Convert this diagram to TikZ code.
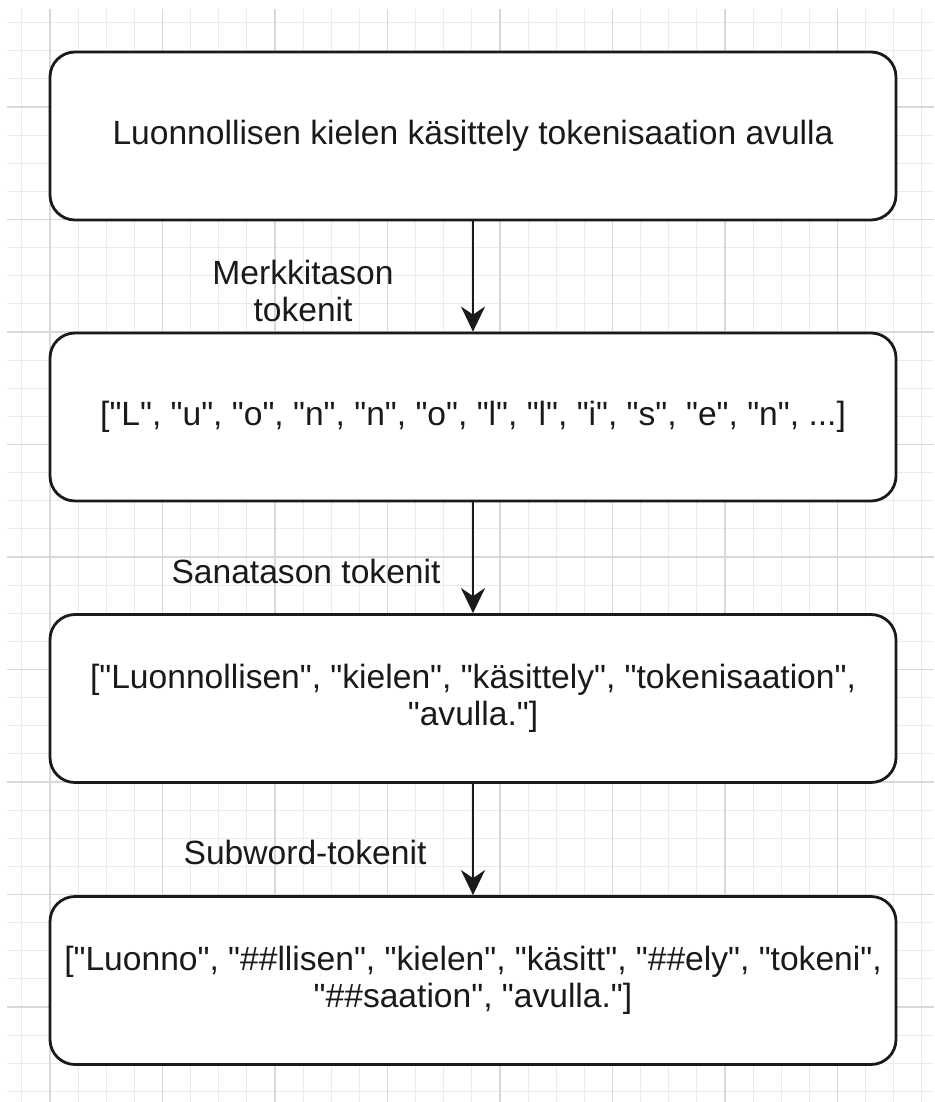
\documentclass[tikz,border=0pt]{standalone}
\usepackage{fontspec}
\setmainfont{Liberation Sans}[Ligatures=TeXOff]
\usetikzlibrary{arrows.meta}
\definecolor{gridminor}{HTML}{EBEBEB}
\definecolor{gridmajor}{HTML}{D8D8D8}
\definecolor{inkcol}{HTML}{1A1A1A}

\begin{document}
\begin{tikzpicture}[x=0.5pt,y=-0.5pt,
  stage/.style={draw=inkcol, line width=1.4pt, rounded corners=12.5pt, fill=white,
    minimum width=423pt, minimum height=84pt, align=center, inner sep=0pt,
    text=inkcol, font=\fontsize{16.8}{18.75}\selectfont},
  flow/.style={draw=inkcol, line width=1.1pt,
    -{Stealth[length=12.5pt,width=12pt,inset=4pt]}},
  lbl/.style={align=center, inner sep=0pt, text=inkcol,
    font=\fontsize{16.8}{18.5}\selectfont}]

\useasboundingbox (0,0) rectangle (934,1102);
\fill[white] (0,0) rectangle (934,1102);

% background grid: fine lines every 28.125 units, heavier every fourth
\begin{scope}
  \clip (7,10) rectangle (934,1102);
  \foreach \i in {-1,...,31}
    \draw[gridminor, line width=0.5pt] ({50+28.125*\i},0) -- ({50+28.125*\i},1102);
  \foreach \j in {-3,...,35}
    \draw[gridminor, line width=0.5pt] (0,{107+28.125*\j}) -- (934,{107+28.125*\j});
  \foreach \k in {0,...,7}
    \draw[gridmajor, line width=0.7pt] ({50+112.5*\k},0) -- ({50+112.5*\k},1102);
  \foreach \k in {0,...,8}
    \draw[gridmajor, line width=0.7pt] (0,{107+112.5*\k}) -- (934,{107+112.5*\k});
\end{scope}

% processing stages
\node[stage] (b1) at (473,136) {Luonnollisen kielen käsittely tokenisaation avulla};
\node[stage] (b2) at (473,417) {["L", "u", "o", "n", "n", "o", "l", "l", "i", "s", "e", "n", ...]};
\node[stage] (b3) at (473,698.5) {["Luonnollisen", "kielen", "käsittely", "tokenisaation",\\"avulla."]};
\node[stage] (b4) at (473,980.5) {["Luonno", "\#\#llisen", "kielen", "käsitt", "\#\#ely", "tokeni",\\"\#\#saation", "avulla."]};

% connectors
\draw[flow] (b1) -- (b2);
\draw[flow] (b2) -- (b3);
\draw[flow] (b3) -- (b4);

% connector labels
\node[lbl] (l1) at (303,291) {Merkkitason\\tokenit};
\node[lbl] (l2) at (306,571.5) {Sanatason tokenit};
\node[lbl] (l3) at (305,852) {Subword-tokenit};
\end{tikzpicture}
\end{document}
